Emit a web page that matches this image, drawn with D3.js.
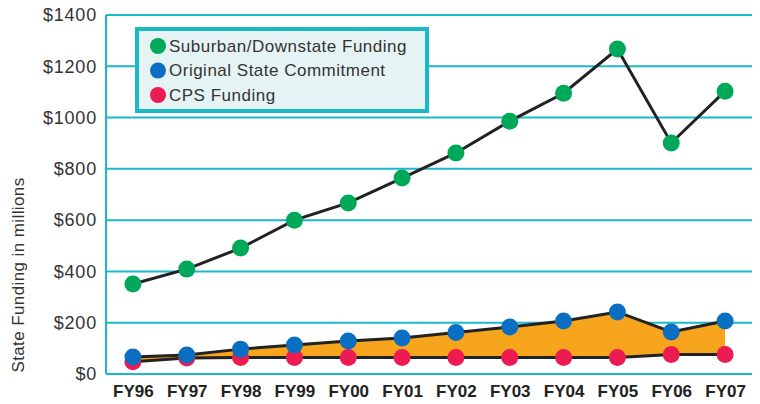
<!DOCTYPE html>
<html>
<head>
<meta charset="utf-8">
<script src="https://cdn.jsdelivr.net/npm/d3@7"></script>
<style>
  body { margin: 0; background: #fff; }
  svg { display: block; font-family: "Liberation Sans", Arial, sans-serif; }
</style>
</head>
<body>
<div id="chart"></div>
<script>
// data (millions)
var years = ["FY96", "FY97", "FY98", "FY99", "FY00", "FY01", "FY02", "FY03", "FY04", "FY05", "FY06", "FY07"];
var suburban = [351, 409, 491, 600, 667, 764, 862, 986, 1095, 1267, 901, 1103];
var original = [66, 74, 97, 113, 129, 140, 162, 183, 207, 242, 164, 207];
var cps = [48, 62, 64, 64, 64, 64, 64, 64, 64, 64, 76, 76];
var yTicks = [0, 200, 400, 600, 800, 1000, 1200, 1400];

var svgWidth = 760;
var svgHeight = 404;

var margin = { top: 15, bottom: 30, right: 8, left: 106 };
var width = svgWidth - margin.left - margin.right;
var height = svgHeight - margin.top - margin.bottom;

var teal = "#1bb8c6";

var svg = d3.select("#chart")
    .append("svg")
    .attr("width", svgWidth)
    .attr("height", svgHeight);

var chartGroup = svg.append("g")
    .attr("transform", `translate(${margin.left}, ${margin.top})`);

var x = d3.scalePoint()
    .domain(years)
    .range([0, width])
    .padding(0.5);

var y = d3.scaleLinear()
    .domain([0, 1400])
    .range([height, 0]);

// gridlines
chartGroup.selectAll(".grid")
    .data(yTicks)
    .enter()
    .append("line")
    .attr("x1", 0)
    .attr("x2", width)
    .attr("y1", d => y(d))
    .attr("y2", d => y(d))
    .attr("stroke", teal)
    .attr("stroke-width", 2);

chartGroup.append("line")
    .attr("x1", 0).attr("x2", 0)
    .attr("y1", y(1400)).attr("y2", y(0))
    .attr("stroke", teal)
    .attr("stroke-width", 2);

// y axis labels
var leftAxis = d3.axisLeft(y).tickValues(yTicks).tickSize(0).tickPadding(9)
    .tickFormat(d => "$" + d);
var yAxis = chartGroup.append("g").call(leftAxis);
yAxis.select(".domain").remove();
yAxis.selectAll("text")
    .style("font-size", "18px")
    .style("letter-spacing", "0.8px")
    .attr("fill", "#333");

// x axis labels
var bottomAxis = d3.axisBottom(x).tickSize(0).tickPadding(11);
var xAxis = chartGroup.append("g")
    .attr("transform", `translate(0, ${height})`)
    .call(bottomAxis);
xAxis.select(".domain").remove();
xAxis.selectAll("text")
    .style("font-size", "17px")
    .style("font-weight", "bold")
    .attr("fill", "#222");

// orange area between original commitment and CPS funding
var area = d3.area()
    .x((d, i) => x(years[i]))
    .y0((d, i) => y(cps[i]))
    .y1(d => y(d));

chartGroup.append("path")
    .datum(original)
    .attr("d", area)
    .attr("fill", "#f7a51c");

var line = d3.line()
    .x((d, i) => x(years[i]))
    .y(d => y(d));

var series = [
    { values: cps, color: "#ec1c52" },
    { values: original, color: "#0a6fc2" },
    { values: suburban, color: "#00a859" }
];

series.forEach(function(s) {
    chartGroup.append("path")
        .datum(s.values)
        .attr("d", line)
        .attr("fill", "none")
        .attr("stroke", "#222")
        .attr("stroke-width", 3);
});

series.forEach(function(s) {
    chartGroup.selectAll(null)
        .data(s.values)
        .enter()
        .append("circle")
        .attr("cx", (d, i) => x(years[i]))
        .attr("cy", d => y(d))
        .attr("r", 8.5)
        .attr("fill", s.color);
});

// y axis title
svg.append("text")
    .attr("transform", "translate(24, 275) rotate(-90)")
    .attr("text-anchor", "middle")
    .style("font-size", "17px")
    .style("letter-spacing", "0.4px")
    .attr("fill", "#333")
    .text("State Funding in millions");

// legend
var legend = svg.append("g").attr("transform", "translate(137, 29)");
legend.append("rect")
    .attr("width", 290)
    .attr("height", 82)
    .attr("fill", "#e6f3f4")
    .attr("stroke", teal)
    .attr("stroke-width", 4);

var legendItems = [
    { label: "Suburban/Downstate Funding", color: "#00a859" },
    { label: "Original State Commitment", color: "#0a6fc2" },
    { label: "CPS Funding", color: "#ec1c52" }
];

legendItems.forEach(function(item, i) {
    legend.append("circle")
        .attr("cx", 21)
        .attr("cy", 17 + i * 24.5)
        .attr("r", 8)
        .attr("fill", item.color);
    legend.append("text")
        .attr("x", 32)
        .attr("y", 17 + i * 24.5)
        .attr("dy", "0.35em")
        .style("font-size", "17px")
        .style("letter-spacing", "0.5px")
        .attr("fill", "#333")
        .text(item.label);
});
</script>
</body>
</html>
